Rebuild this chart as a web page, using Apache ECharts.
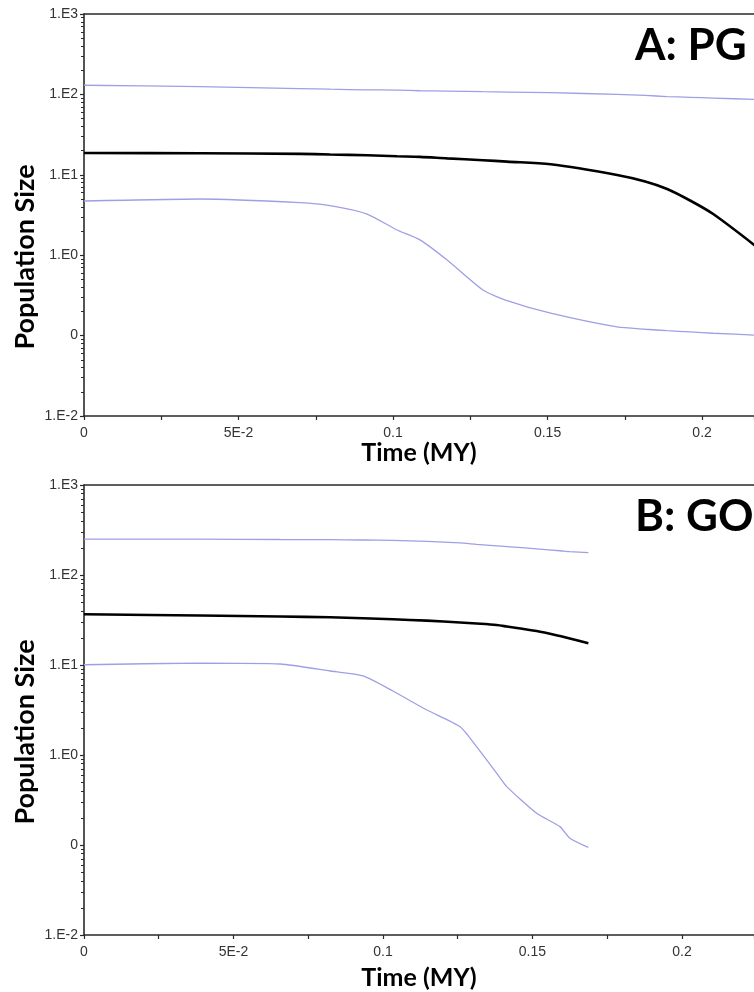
<!DOCTYPE html>
<html>
<head>
<meta charset="utf-8">
<script src="https://cdn.jsdelivr.net/npm/echarts@6/dist/echarts.min.js"></script>
<style>
  html, body { margin: 0; padding: 0; background: #fff; }
  #chart { width: 754px; height: 992px; }
</style>
</head>
<body>
<div id="chart"></div>
<script>
// Bayesian skyline plots: effective population size through time (million years)

// Panel A: PG
const pgTime   = [0, 0.0375, 0.0699, 0.0796, 0.0916, 0.1013, 0.1087, 0.1175, 0.1291, 0.1369, 0.151, 0.1725, 0.1816, 0.1887, 0.1961, 0.2036, 0.218];
const pgMedian = [18.7, 18.5, 18.2, 17.9, 17.5, 17.0, 16.7, 16.0, 15.2, 14.6, 13.5, 9.95, 8.26, 6.66, 4.79, 3.25, 1.24];
const pgUpper  = [130, 125, 118, 116, 114, 113, 111, 110, 108, 107, 105, 100, 97, 94, 92, 90, 86.5];
const pgLower  = [4.72, 5.0, 4.5, 4.13, 3.25, 2.06, 1.55, 0.871, 0.369, 0.272, 0.19, 0.128, 0.12, 0.115, 0.111, 0.107, 0.101];

// Panel B: GO
const goTime   = [0, 0.0388, 0.0656, 0.0823, 0.0933, 0.1033, 0.1147, 0.1258, 0.1313, 0.138, 0.1414, 0.1514, 0.1592, 0.1625, 0.1687];
const goMedian = [36.6, 35.5, 34.6, 33.9, 33.1, 32.2, 31.1, 29.7, 28.9, 27.8, 26.8, 23.9, 21.0, 19.7, 17.4];
const goUpper  = [251, 250, 248, 247, 245, 242, 236, 227, 219, 211, 207, 195, 186, 181.5, 177];
const goLower  = [10.07, 10.5, 10.26, 8.58, 7.55, 5.14, 3.16, 2.06, 1.24, 0.63, 0.445, 0.225, 0.160, 0.119, 0.094];

// Axis tick labels
const xTickLabels = ['0', '5E-2', '0.1', '0.15', '0.2', '0.25'];
const yTickLabels = ['1.E-2', '0', '1.E0', '1.E1', '1.E2', '1.E3'];

const panelTitles = ['A: PG', 'B: GO'];
const yTitle = 'Population Size';
const xTitle = 'Time (MY)';

const zip = (xs, ys) => xs.map((x, i) => [x, ys[i]]);

const labelFont = { fontFamily: 'Liberation Sans', fontSize: 14, color: '#333' };
const axisTitleFont = { fontFamily: 'Lato', fontWeight: 'bold', fontSize: 25, color: '#000' };
const axisColor = '#2a2a2a';

// Both panels run off the right edge of the figure; the visible time span differs per panel
const xMax = [0.2168, 0.2241];

function xAxisFor(gridIndex, nameGap) {
  return {
    type: 'value', gridIndex, min: 0, max: xMax[gridIndex], interval: 0.05,
    name: xTitle, nameLocation: 'middle', nameGap, nameTextStyle: axisTitleFont,
    axisLine: { show: true, lineStyle: { color: axisColor, width: 1.6 } },
    axisTick: { show: true, length: 4, lineStyle: { color: axisColor, width: 1.2 } },
    minorTick: { show: true, splitNumber: 2, length: 4, lineStyle: { color: axisColor, width: 1.2 } },
    splitLine: { show: false },
    axisLabel: Object.assign({ margin: 10, showMaxLabel: false, formatter: v => xTickLabels[Math.round(v / 0.05)] }, labelFont)
  };
}

// Top frame line of each panel
function frameAxisFor(gridIndex) {
  return {
    type: 'value', gridIndex, position: 'top', min: 0, max: xMax[gridIndex],
    axisLine: { show: true, lineStyle: { color: axisColor, width: 1.6 } },
    axisTick: { show: false }, axisLabel: { show: false }, splitLine: { show: false }
  };
}

function yAxisFor(gridIndex) {
  return {
    type: 'log', logBase: 10, gridIndex, min: 0.01, max: 1000,
    axisLine: { show: true, lineStyle: { color: axisColor, width: 1.6 } },
    axisTick: { show: true, length: 4, lineStyle: { color: axisColor, width: 1.2 } },
    minorTick: { show: true, splitNumber: 9, length: 3, lineStyle: { color: axisColor, width: 1 } },
    splitLine: { show: false },
    axisLabel: Object.assign({ margin: 6, formatter: v => yTickLabels[Math.round(Math.log10(v)) + 2] }, labelFont)
  };
}

function lineSeries(idx, data, color, width, z, smooth) {
  return {
    type: 'line', xAxisIndex: idx * 2, yAxisIndex: idx, data, showSymbol: false, symbol: 'none',
    smooth, z,
    lineStyle: { color, width }
  };
}

const blue = '#9f9fe6';
const panelTitleStyle = { fontFamily: 'Lato', fontWeight: 'bold', fontSize: 44, color: '#000' };

function yTitleText(centerY) {
  return {
    type: 'text', x: 25, y: centerY, rotation: Math.PI / 2,
    style: {
      text: yTitle, fontFamily: 'Lato', fontWeight: 'bold', fontSize: 27, fill: '#000',
      align: 'center', verticalAlign: 'middle'
    }
  };
}

const option = {
  animation: false,
  backgroundColor: '#fff',
  title: [
    { text: panelTitles[0], left: 630, top: 19, textStyle: panelTitleStyle },
    { text: panelTitles[1], left: 630, top: 490, textStyle: panelTitleStyle }
  ],
  graphic: [yTitleText(257), yTitleText(732)],
  grid: [
    { left: 84, top: 14, right: 0, height: 402 },
    { left: 84, top: 485, right: 0, height: 450 }
  ],
  xAxis: [xAxisFor(0, 24), frameAxisFor(0), xAxisFor(1, 30), frameAxisFor(1)],
  yAxis: [yAxisFor(0), yAxisFor(1)],
  series: [
    lineSeries(0, zip(pgTime, pgUpper), blue, 1.3, 2, 0.2),
    lineSeries(0, zip(pgTime, pgLower), blue, 1.3, 2, 0.2),
    lineSeries(0, zip(pgTime, pgMedian), '#000', 2.6, 3, 0.3),
    lineSeries(1, zip(goTime, goUpper), blue, 1.3, 2, 0.2),
    lineSeries(1, zip(goTime, goLower), blue, 1.3, 2, 0.2),
    lineSeries(1, zip(goTime, goMedian), '#000', 2.6, 3, 0.3)
  ]
};

const chart = echarts.init(document.getElementById('chart'), null, { renderer: 'canvas' });
chart.setOption(option);
</script>
</body>
</html>
